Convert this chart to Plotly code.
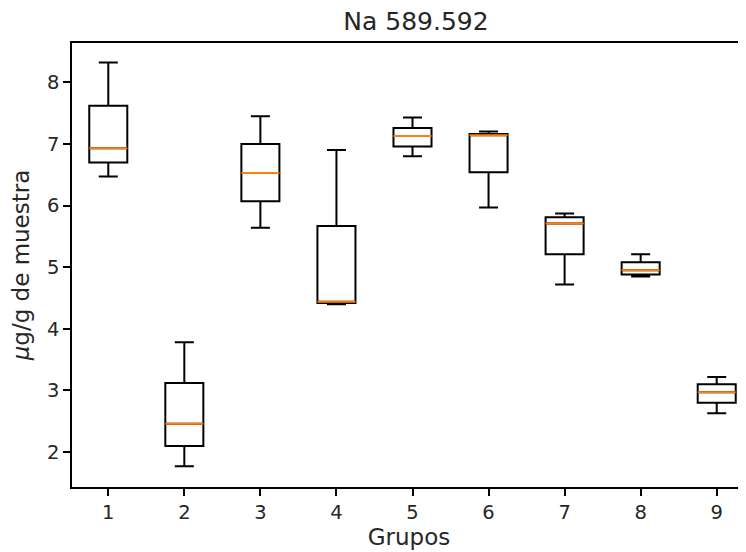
import plotly.graph_objects as go

groups = [1, 2, 3, 4, 5, 6, 7, 8, 9]
lower_whisker = [6.47, 1.77, 5.64, 4.40, 6.80, 5.97, 4.72, 4.85, 2.63]
q1_vals       = [6.70, 2.10, 6.07, 4.42, 6.96, 6.54, 5.21, 4.88, 2.80]
median_vals   = [6.93, 2.46, 6.53, 4.44, 7.13, 7.14, 5.71, 4.95, 2.97]
q3_vals       = [7.62, 3.12, 7.00, 5.67, 7.26, 7.16, 5.81, 5.08, 3.10]
upper_whisker = [8.32, 3.78, 7.45, 6.90, 7.43, 7.20, 5.87, 5.21, 3.22]

title_text = "Na 589.592"
x_title = "Grupos"
y_title = "<i>μ</i>g/g de muestra"

FONT = "DejaVu Sans"
TXT = "#262626"

# the page body adds an 8px offset, so the figure is sized/positioned to compensate
W, H = 738, 544

fig = go.Figure()
fig.add_trace(go.Box(
    x=groups, q1=q1_vals, median=median_vals, q3=q3_vals,
    lowerfence=lower_whisker, upperfence=upper_whisker,
    width=0.5, whiskerwidth=0.5, boxpoints=False,
    line=dict(color="black", width=2), fillcolor="rgba(0,0,0,0)",
    showlegend=False, hoverinfo="skip",
))
# median lines drawn in orange on top
fig.add_trace(go.Box(
    x=groups, q1=median_vals, median=median_vals, q3=median_vals,
    lowerfence=median_vals, upperfence=median_vals,
    width=0.5, whiskerwidth=0, boxpoints=False,
    line=dict(color="#ff7f0e", width=2), fillcolor="rgba(0,0,0,0)",
    showlegend=False, hoverinfo="skip",
))

fig.update_layout(
    width=W, height=H,
    margin=dict(l=64, r=0, t=35, b=65),
    paper_bgcolor="white", plot_bgcolor="white",
    font=dict(family=FONT, size=19.5, color=TXT),
    boxmode="overlay",
    title=dict(text=title_text, font=dict(size=25, family=FONT, color=TXT),
               xref="container", x=408 / W, xanchor="center",
               yref="container", y=1 - 13 / H, yanchor="middle"),
    xaxis=dict(
        range=[0.523, 9.385], tickmode="array", tickvals=groups,
        ticktext=[str(g) for g in groups],
        showgrid=False, zeroline=False, automargin=False,
        showline=True, linecolor="black", linewidth=1.6, mirror=True,
        ticks="outside", ticklen=7, tickwidth=1.6, tickcolor="black",
        title=dict(text=x_title, standoff=6),
    ),
    yaxis=dict(
        range=[1.433, 8.638], tickmode="linear", tick0=2, dtick=1,
        showgrid=False, zeroline=False, automargin=False,
        showline=True, linecolor="black", linewidth=1.6, mirror=False,
        ticks="outside", ticklen=7, tickwidth=1.6, tickcolor="black",
        title=dict(text=y_title, standoff=14),
    ),
)

fig.write_html("out.html")
